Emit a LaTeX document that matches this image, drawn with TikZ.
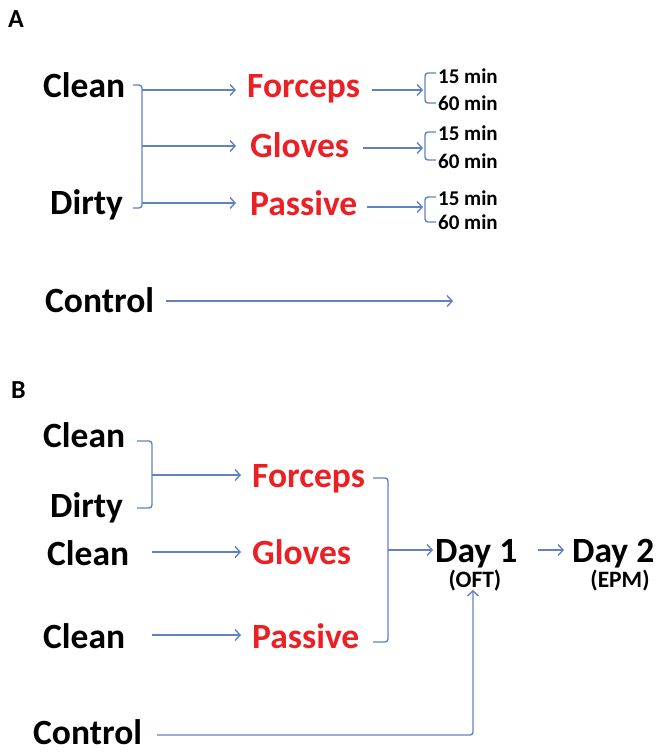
\documentclass[tikz,border=0pt]{standalone}
\usepackage{fontspec}
\setmainfont{Carlito}
\usetikzlibrary{arrows.meta}
\definecolor{lnblue}{RGB}{96,130,196}
\definecolor{grpred}{RGB}{236,32,36}
\tikzset{
  lbl/.style={font=\fontsize{35.5}{40}\selectfont\bfseries, inner sep=0pt, anchor=base west},
  grp/.style={lbl, text=grpred},
  tlbl/.style={font=\fontsize{21}{24}\selectfont\bfseries, inner sep=0pt, anchor=base west},
  sublbl/.style={font=\fontsize{23.5}{26}\selectfont\bfseries, inner sep=0pt, anchor=base},
  panel/.style={font=\fontsize{26}{28}\selectfont\bfseries, inner sep=0pt, anchor=base west},
  ln/.style={draw=lnblue, line width=1.4pt, rounded corners=3pt},
  arr/.style={ln, -{Straight Barb[length=5pt,width=11pt,line width=1.4pt]}}
}
\begin{document}
\begin{tikzpicture}[x=1pt,y=-1pt]
\useasboundingbox (0,0) rectangle (656,752);
% ---------- Panel A ----------
\node[panel] (pA) at (8,28) {A};
\node[lbl] (cleanA) at (43,97) {Clean};
\node[lbl] (dirtyA) at (50,214) {Dirty};
\node[grp] (forA) at (247,97) {Forceps};
\node[grp] (gloA) at (250,157) {Gloves};
\node[grp] (pasA) at (250,215) {Passive};
\node[lbl] (ctrlA) at (45,312) {Control};
\node[tlbl] (f15) at (438,83) {15 min};
\node[tlbl] (f60) at (438,110) {60 min};
\node[tlbl] (g15) at (438,140) {15 min};
\node[tlbl] (g60) at (438,168) {60 min};
\node[tlbl] (p15) at (438,205) {15 min};
\node[tlbl] (p60) at (438,229) {60 min};
% bracket joining Clean and Dirty
\coordinate (bAt) at (133,85);
\coordinate (bAb) at (133,208);
\draw[ln] (bAt) -- (142,85) -- (142,208) -- (bAb);
\coordinate (jA1) at (142,90);
\coordinate (jA2) at (142,146);
\coordinate (jA3) at (142,203);
\draw[arr] (jA1) -- (236,90);
\draw[arr] (jA2) -- (236,146);
\draw[arr] (jA3) -- (236,203);
% arrows to time brackets
\draw[ln] (436,73) -- (425,73) -- (425,103) -- (436,103);
\draw[ln] (436,132) -- (425,132) -- (425,160) -- (436,160);
\draw[ln] (436,197) -- (425,197) -- (425,222) -- (436,222);
\draw[arr] (372,90) -- (423,90);
\draw[arr] (363,148) -- (423,148);
\draw[arr] (367,207) -- (423,207);
% control
\draw[arr] (166,301) -- (453,301);
% ---------- Panel B ----------
\node[panel] (pB) at (11,398) {B};
\node[lbl] (cleanB1) at (43,447) {Clean};
\node[lbl] (dirtyB) at (50,517) {Dirty};
\node[lbl] (cleanB2) at (47,565) {Clean};
\node[lbl] (cleanB3) at (43,648) {Clean};
\node[lbl] (ctrlB) at (33,744) {Control};
\node[grp] (forB) at (252,487) {Forceps};
\node[grp] (gloB) at (252,564) {Gloves};
\node[grp] (pasB) at (252,648) {Passive};
\node[lbl] (day1) at (435,562) {Day 1};
\node[sublbl] (oft) at (475,587) {(OFT)};
\node[lbl] (day2) at (572,562) {Day 2};
\node[sublbl] (epm) at (620,587) {(EPM)};
% bracket Clean/Dirty -> Forceps
\draw[ln] (137,441) -- (152,441) -- (152,508) -- (137,508);
\draw[arr] (152,475) -- (241,475);
\draw[arr] (152,552) -- (241,552);
\draw[arr] (152,635) -- (241,635);
% groups -> Day 1
\draw[ln] (373,478) -- (388,478) -- (388,642) -- (373,642);
\draw[arr] (388,550) -- (433,550);
\draw[arr] (538,550) -- (564,550);
% control -> Day 1
\draw[arr] (157,735) -- (473,735) -- (473,590);
\end{tikzpicture}
\end{document}
